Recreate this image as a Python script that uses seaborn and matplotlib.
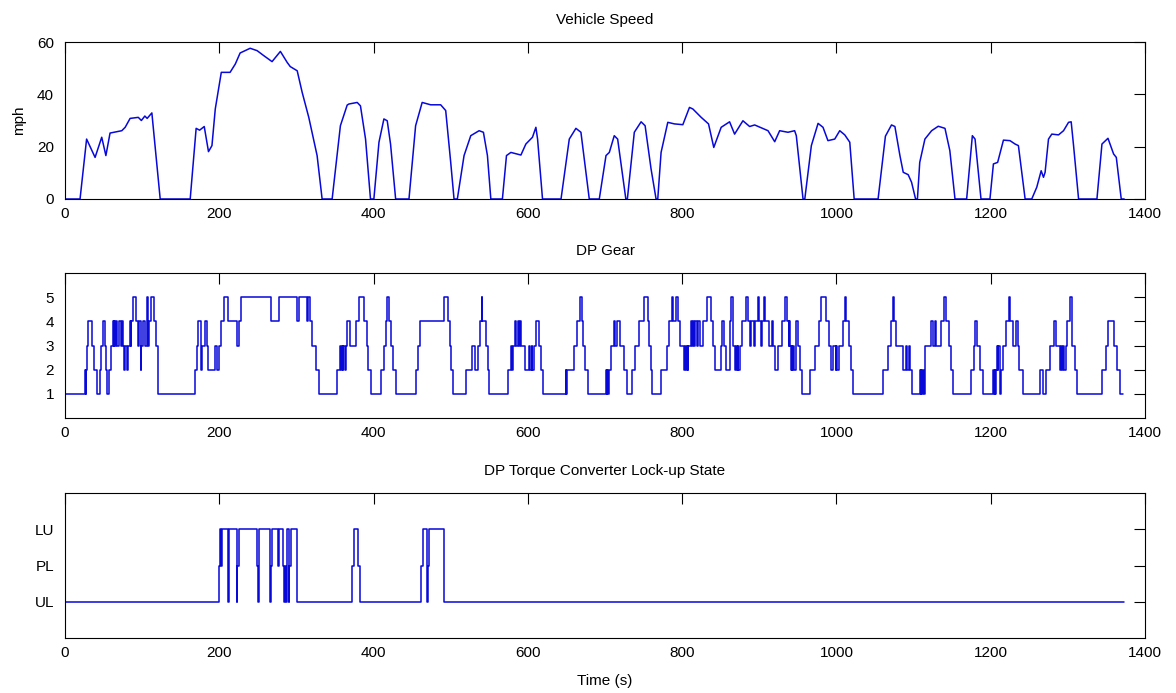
import matplotlib
matplotlib.use("Agg")
import matplotlib.pyplot as plt
import seaborn as sns
import pandas as pd

# ---------------- data ----------------
speed_time = [0, 19.5, 28, 39, 47.6, 53, 58.4, 73.6, 78, 84.4, 95, 99, 103.5, 106.5, 112.6, 123.4,
              162.3, 170, 174.5, 180.5, 186, 190.5, 194.8, 202.6, 214, 220.8, 227, 240, 249, 257.6,
              268.4, 279.2, 288, 292, 301, 307.4, 316, 326.8, 333.3,
              346.3, 357, 365.8, 368, 378.8, 383, 389.6, 396,
              400.4, 407, 413.4, 417.7, 422, 428.6,
              445.9, 454.5, 463, 474, 487, 493.5, 500, 504.3,
              508.6, 517.3, 526, 536.8, 542.4, 547.6, 552,
              567, 572.3, 578, 591, 597.4, 606, 610.4, 612.6, 619,
              643, 653.7, 662.3, 668.8, 679.6,
              692.6, 701.3, 705.6, 712, 716.4, 727,
              729, 738, 746.8, 752, 759.7, 766.2,
              768.4, 772.7, 781.4, 790, 800.9, 809.5, 813.9, 824.7, 834.2, 841, 850.6, 861.5, 868,
              878.8, 887.5, 894, 911.3, 920, 926.4, 937.2, 945.8, 948, 956.7,
              959, 967.5, 976.2, 982.6, 989, 997.8, 1004.3, 1010.8, 1017.3, 1023,
              1054, 1063.5, 1071.4, 1075.8, 1082.3, 1086.6, 1093, 1097.4, 1102.6,
              1105, 1108, 1114.7, 1123.4, 1132, 1140.7, 1147, 1153.7,
              1168.8, 1176.2, 1179.7, 1187.4,
              1199, 1203.5, 1209, 1216.5, 1225, 1231.6, 1235.9, 1244.6,
              1253.2, 1259.7, 1265.4, 1268.4, 1270.5, 1274.9, 1279.2, 1287.9, 1294.4, 1300.9,
              1304.3, 1307.4, 1313.9,
              1337.7, 1344.2, 1352, 1359.3, 1362.8, 1369.2, 1373]
speed_mph = [0, 0, 22.9, 15.9, 23.6, 16.6, 25.2, 26.1, 27.4, 30.8, 31.2, 30, 31.7, 30.8, 32.9, 0,
             0, 27, 26.3, 27.7, 18.1, 20.4, 34.4, 48.4, 48.4, 51.6, 55.8, 57.6, 56.7, 54.8,
             52.5, 56.4, 52.2, 50.6, 49, 40.8, 31.2, 16.6, 0,
             0, 28, 35.9, 36.3, 36.9, 35.6, 22.9, 0,
             0, 21.7, 30.6, 29.9, 21, 0,
             0, 28, 36.9, 36, 36, 33.8, 14, 0,
             0, 16.6, 24.2, 26.1, 25.5, 16.6, 0,
             0, 16.6, 17.8, 16.8, 21, 23.6, 27.4, 22.9, 0,
             0, 22.9, 27, 25.5, 0,
             0, 16.6, 17.8, 24.2, 22.9, 0,
             0, 25.5, 29.5, 28, 11.5, 0,
             0, 17.8, 29.3, 28.7, 28.4, 35, 34.4, 31.2, 28.7, 19.7, 27.4, 29.5, 24.8,
             29.9, 27.7, 28.3, 26.1, 21.9, 26.1, 25.5, 26.1, 24.2, 0,
             0, 20.4, 28.9, 27.4, 22.3, 22.9, 26.1, 24.5, 21.7, 0,
             0, 24, 28.3, 27.7, 16.6, 10.2, 9.3, 6.4, 0,
             0, 14, 22.9, 26.1, 27.8, 27, 18.5, 0,
             0, 24.2, 22.9, 0,
             0, 13.4, 14, 22.5, 22.3, 21, 20.4, 0,
             0, 4.5, 10.8, 8.3, 10.2, 22.9, 24.8, 24.5, 26.1, 29.3,
             29.5, 20.4, 0,
             0, 21, 23.2, 17.2, 15.9, 0, 0]

gear_time = [0, 25.5, 27, 27.5, 28.5, 30, 35, 37, 42, 45, 47, 49, 52, 53, 54, 57, 59, 62, 63, 64, 65, 66,
             68, 70, 72, 74, 75, 76, 78, 80, 82, 84, 85, 86, 88, 92, 94, 96, 98, 99, 101, 104, 106, 107,
             109, 112, 116, 118, 121, 169, 171, 173, 176, 178, 181, 184, 186, 195, 197, 199, 202, 206,
             211, 223, 225.5, 227.5, 266.5, 278, 301, 303, 314, 315, 317, 320, 325, 329, 353, 357, 358,
             359, 360, 361, 363, 364, 366, 370, 377, 381, 388, 391, 393, 396.5, 409.5, 414, 416, 417,
             419.5, 422, 425, 429, 455, 458, 460.5, 491, 496.5, 499, 501, 503.5, 519.5, 528, 532, 535,
             538, 540, 541, 546, 548, 550, 574.5, 578, 580, 581, 583, 584, 587, 588, 590, 591, 596, 601,
             603, 605, 606, 608, 610, 615, 617, 619, 649, 650, 651, 660, 664, 668, 670, 672, 674, 677.5,
             701, 702, 703, 704, 705, 708, 712, 713, 716, 719, 724, 729, 735, 739, 744, 751, 755.5, 757,
             759, 761, 772.7, 780.5, 783.5, 786.5, 788.5, 792, 794.5, 797, 803, 804, 805, 806, 807, 808,
             811, 813, 814, 816, 817, 819, 820, 822.5, 827, 832, 837.5, 840, 842, 850.5, 852, 854, 857,
             862, 863.5, 866, 868, 870, 871, 872, 873, 875, 878, 883, 885, 888, 889, 893, 895, 898, 900,
             902, 903, 906, 908, 912, 916, 918, 920, 924, 930, 933, 935.5, 938, 939, 940, 941, 942, 943,
             944, 945.5, 947, 950, 953, 955.5, 966, 972.5, 978, 980, 986.5, 990, 993, 995, 999, 1000,
             1001, 1003, 1008, 1010.5, 1012.5, 1016, 1019, 1021, 1060, 1066.5, 1071, 1073, 1074, 1077,
             1086, 1090, 1092, 1094.5, 1095.5, 1098, 1108, 1109, 1110, 1111, 1112, 1113, 1115, 1123,
             1125, 1128, 1129, 1136, 1139, 1142.5, 1146, 1148, 1151, 1175, 1178, 1179, 1182, 1186, 1190,
             1203, 1204, 1205, 1206, 1207, 1208, 1209, 1210, 1212, 1213, 1216, 1220, 1224, 1225.5, 1229,
             1233, 1235, 1237, 1242, 1264, 1268, 1272, 1277, 1282, 1284, 1290, 1291, 1292, 1294, 1295,
             1297, 1299, 1303, 1305, 1306, 1309, 1312, 1344, 1349, 1352.5, 1360, 1363.5, 1368, 1372]
gear_value = [1, 2, 1, 2, 3, 4, 3, 2, 1, 2, 3, 4, 3, 2, 1, 2, 3, 4, 3, 4, 3, 4,
              3, 4, 3, 4, 3, 2, 3, 2, 3, 4, 3, 4, 5, 4, 3, 4, 2, 3, 4, 3, 5, 3,
              4, 5, 4, 3, 1, 2, 3, 4, 2, 3, 4, 3, 2, 3, 2, 3, 4, 5,
              4, 3, 4, 5, 4, 5, 4, 5, 4, 5, 4, 3, 2, 1, 2, 3, 2,
              3, 2, 3, 2, 3, 4, 3, 4, 5, 4, 3, 2, 1, 2, 3, 4, 5,
              4, 3, 2, 1, 2, 3, 4, 5, 4, 3, 2, 1, 2, 3, 2, 3,
              4, 5, 4, 3, 2, 1, 2, 3, 2, 3, 4, 3, 4, 3, 4, 3, 2, 3,
              2, 3, 2, 3, 4, 3, 2, 1, 2, 1, 2, 3, 4, 5, 4, 3, 2, 1,
              2, 1, 2, 1, 2, 3, 4, 3, 4, 3, 2, 1, 2, 3, 4, 5, 4, 3,
              2, 1, 2, 3, 4, 5, 4, 5, 4, 3, 2, 3, 2, 3, 2, 3,
              4, 3, 4, 3, 4, 3, 4, 3, 4, 5, 4, 3, 2, 3, 4, 3, 2,
              4, 5, 3, 2, 3, 2, 3, 2, 3, 4, 5, 4, 3, 4, 3, 4, 5, 4,
              3, 4, 5, 4, 3, 4, 3, 2, 3, 4, 5, 4, 3, 4, 3, 2, 3, 2,
              3, 2, 4, 3, 2, 1, 2, 3, 4, 5, 4, 3, 2, 3, 2, 3,
              2, 3, 4, 5, 4, 3, 2, 1, 2, 3, 4, 5, 4, 3,
              2, 3, 2, 3, 2, 1, 2, 1, 2, 1, 2, 1, 3, 4,
              3, 4, 3, 4, 5, 4, 3, 2, 1, 2, 3, 4, 3, 2, 1,
              2, 1, 2, 1, 2, 3, 2, 3, 1, 2, 3, 4, 5, 4, 3,
              4, 3, 2, 1, 2, 1, 2, 3, 4, 3, 2, 3, 2, 3, 2,
              3, 4, 5, 4, 3, 2, 1, 2, 3, 4, 3, 2, 1, 1]

lock_time = [0, 199.2, 200.5, 202, 203, 211, 212, 222.5, 223.5, 225, 249, 250.5, 251.5, 266, 267.5,
             268.5, 276.5, 277.5, 283, 284.5, 285.5, 287, 288, 290, 291, 292.5, 301, 372, 374, 380,
             382, 462, 464, 469.5, 470.5, 472, 491.5, 1373]
lock_state = [1, 2, 3, 2, 3, 1, 3, 1, 2, 3, 2, 1, 3, 1, 2,
              3, 2, 3, 2, 1, 2, 1, 3, 1, 2, 3, 1, 2, 3, 2,
              1, 2, 3, 1, 2, 3, 1, 1]

x_ticks = [0, 200, 400, 600, 800, 1000, 1200, 1400]
speed_ticks = [0, 20, 40, 60]
gear_ticks = [1, 2, 3, 4, 5]
lock_ticks = [1, 2, 3]
lock_labels = ["UL", "PL", "LU"]

# ---------------- styling ----------------
sns.set_theme(style="white")
plt.rcParams["font.family"] = ["Liberation Sans", "DejaVu Sans"]
plt.rcParams["font.size"] = 11
plt.rcParams["text.color"] = "black"
plt.rcParams["axes.labelcolor"] = "black"
plt.rcParams["axes.titlecolor"] = "black"
plt.rcParams["axes.edgecolor"] = "black"
plt.rcParams["axes.linewidth"] = 0.8

W, H = 1176, 693
fig = plt.figure(figsize=(W / 100, H / 100), dpi=100)
fig.patch.set_facecolor("white")

def px_axes(left, top, right, bottom):
    return fig.add_axes([left / W, 1 - bottom / H, (right - left) / W, (bottom - top) / H])

ax1 = px_axes(65, 42, 1145, 199)
ax2 = px_axes(65, 273, 1145, 418)
ax3 = px_axes(65, 493, 1145, 638)

line_kw = dict(color="#0808d8", linewidth=1.1, estimator=None, sort=False, legend=False)

df_speed = pd.DataFrame({"t": speed_time, "v": speed_mph})
df_gear = pd.DataFrame({"t": gear_time, "g": gear_value})
df_lock = pd.DataFrame({"t": lock_time, "s": lock_state})

sns.lineplot(data=df_speed, x="t", y="v", ax=ax1, **line_kw)
sns.lineplot(data=df_gear, x="t", y="g", ax=ax2, drawstyle="steps-post", **line_kw)
sns.lineplot(data=df_lock, x="t", y="s", ax=ax3, drawstyle="steps-post", **line_kw)

for ax in (ax1, ax2, ax3):
    ax.set_xlim(0, 1400)
    ax.set_xticks(x_ticks)
    ax.set_xticklabels([str(v) for v in x_ticks])
    ax.tick_params(direction="in", length=8, width=0.8, top=True, right=True,
                   labelsize=11, colors="black")
    ax.tick_params(axis="x", pad=6)
    ax.tick_params(axis="y", pad=8)
    ax.set_xlabel("")
    ax.set_ylabel("")
    ax.set_facecolor("white")
    for s in ax.spines.values():
        s.set_color("black")
        s.set_linewidth(0.8)

ax1.set_ylim(0, 60)
ax1.set_yticks(speed_ticks)
ax1.set_ylabel("mph", fontsize=11, labelpad=8, color="black")
ax1.set_title("Vehicle Speed", fontsize=11, pad=13, color="black")

ax2.set_ylim(0, 6)
ax2.set_yticks(gear_ticks)
ax2.set_title("DP Gear", fontsize=11, pad=13, color="black")

ax3.set_ylim(0, 4)
ax3.set_yticks(lock_ticks)
ax3.set_yticklabels(lock_labels)
ax3.set_title("DP Torque Converter Lock-up State", fontsize=11, pad=13, color="black")
ax3.set_xlabel("Time (s)", fontsize=11, labelpad=10, color="black")

fig.savefig("out.png", dpi=100, facecolor="white")
